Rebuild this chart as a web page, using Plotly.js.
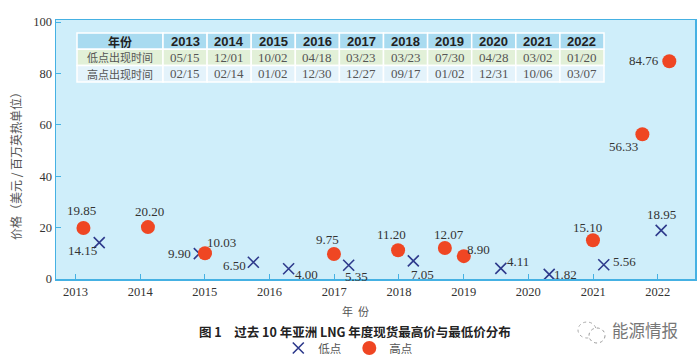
<!DOCTYPE html>
<html>
<head>
<meta charset="utf-8">
<script src="https://cdn.plot.ly/plotly-3.0.1.min.js"></script>
<style>html,body{margin:0;padding:0;background:#fff;}#chart{width:700px;height:364px;}</style>
</head>
<body>
<div id="chart"></div>
<script>
// ---- data ----
var years = ['2013','2014','2015','2016','2017','2018','2019','2020','2021','2022'];
var lowDates  = ['05/15','12/01','10/02','04/18','03/23','03/23','07/30','04/28','03/02','01/20'];
var highDates = ['02/15','02/14','01/02','12/30','12/27','09/17','01/02','12/31','10/06','03/07'];
var lowValues  = [14.15, 9.90, 6.50, 4.00, 5.35, 7.05, 4.11, 1.82, 5.56, 18.95];
var highValues = [19.85, 20.20, 10.03, 9.75, 11.20, 12.07, 8.90, 15.10, 56.33, 84.76];
var tableHeader = '年份';
var rowLabels = ['低点出现时间', '高点出现时间'];

// ---- label offsets (style, px relative to marker) ----
var lowLabelShift  = [[-17,7.5],[-20,0],[-19,3],[18,6],[8,11],[9,14],[17,-6.5],[16,0],[21,-3],[0,-16]];
var highLabelShift = [[-1.5,-18],[2,-16],[16.5,-11],[-6,-14],[-7,-16],[4,-13.7],[15,-7],[-5,-13],[-19,12],[-25.5,-1]];

function toDate(y, md){ var p = md.split('/'); return y + '-' + p[0] + '-' + p[1]; }
var lowX = years.map(function(y,i){ return toDate(y, lowDates[i]); });
var highX = years.map(function(y,i){ return toDate(y, highDates[i]); });
function fmt(v){ return v.toFixed(2); }

var serif = 'Liberation Serif, Times New Roman, serif';
var sans = 'Liberation Sans, Arial, sans-serif';
var cjk = 'Noto Sans CJK SC, sans-serif';

var lowTrace = {
  type:'scatter', mode:'markers', name:'低点',
  x: lowX, y: lowValues,
  marker:{symbol:'x-thin', size:11, color:'#2e3a8c', line:{width:1.6, color:'#2e3a8c'}},
  cliponaxis:false
};
var highTrace = {
  type:'scatter', mode:'markers', name:'高点',
  x: highX, y: highValues,
  marker:{symbol:'circle', size:14, color:'#ef4623'},
  cliponaxis:false
};

// plot-area geometry in px (layout only)
var M = {l:56, r:5, t:20, b:85};
var PW = 700 - M.l - M.r, PH = 364 - M.t - M.b;
function px2x(px){ return (px - M.l) / PW; }
function px2y(py){ return (364 - M.b - py) / PH; }

var annotations = [];
var shapes = [];

function addLabels(xs, vals, shifts){
  xs.forEach(function(x, i){
    annotations.push({x:x, y:vals[i], xref:'x', yref:'y', text:fmt(vals[i]), showarrow:false,
      xanchor:'center', yanchor:'middle', xshift:shifts[i][0], yshift:-shifts[i][1], borderpad:0,
      font:{family:serif, size:13, color:'#333'}});
  });
}
addLabels(lowX, lowValues, lowLabelShift);
addLabels(highX, highValues, highLabelShift);

// ---- table built from the arrays ----
var tLeft = 77, firstW = 86, colW = 44.1;
var rowTops = [33, 49.3, 65.6, 82];
var rowFills = ['#a9dbf0', '#e2f0d8', '#e4f3fb'];
var tableRows = [[tableHeader].concat(years), [rowLabels[0]].concat(lowDates), [rowLabels[1]].concat(highDates)];
tableRows.forEach(function(row, r){
  row.forEach(function(val, c){
    var x0 = c === 0 ? tLeft : tLeft + firstW + (c-1)*colW;
    var x1 = c === 0 ? tLeft + firstW : x0 + colW;
    var y0 = rowTops[r], y1 = rowTops[r+1];
    shapes.push({type:'rect', xref:'paper', yref:'paper', x0:px2x(x0), x1:px2x(x1), y0:px2y(y1), y1:px2y(y0),
      fillcolor:rowFills[r], line:{color:'#ffffff', width:1.5}, layer:'below'});
    var isHeader = r === 0;
    var font;
    if (isHeader) font = {family: c === 0 ? cjk : sans, size: c === 0 ? 12 : 13, color:'#222'};
    else font = {family: c === 0 ? cjk : serif, size: c === 0 ? 11 : 13, color:'#555'};
    annotations.push({xref:'paper', yref:'paper', x:px2x((x0+x1)/2), y:px2y((y0+y1)/2),
      xanchor:'center', yanchor:'middle', showarrow:false, borderpad:0,
      text: isHeader ? '<b>'+val+'</b>' : val, font:font});
  });
});

annotations.push(
  {text:'价格（美元 / 百万英热单位）', xref:'paper', yref:'paper', x:px2x(15), y:px2y(163), textangle:-90,
   xanchor:'center', yanchor:'middle', showarrow:false, font:{family:cjk, size:12, color:'#555'}},
  {text:'年  份', xref:'paper', yref:'paper', x:px2x(355), y:px2y(311), xanchor:'center', yanchor:'middle',
   showarrow:false, borderpad:0, font:{family:cjk, size:11, color:'#555'}},
  {text:'<b>图 1　过去 10 年亚洲 LNG 年度现货最高价与最低价分布</b>', xref:'paper', yref:'paper',
   x:px2x(355), y:px2y(331), xanchor:'center', yanchor:'middle', borderpad:0,
   showarrow:false, font:{family:cjk, size:12.5, color:'#222'}},
  {text:'能源情报', xref:'paper', yref:'paper', x:px2x(645), y:px2y(330), xanchor:'center', yanchor:'middle',
   showarrow:false, borderpad:0, font:{family:cjk, size:16.5, color:'#777'}}
);

shapes.push(
  {type:'circle', xref:'paper', yref:'paper', x0:px2x(578), x1:px2x(596), y0:px2y(338), y1:px2y(322),
   line:{color:'#aaa', width:1, dash:'dot'}},
  {type:'circle', xref:'paper', yref:'paper', x0:px2x(589), x1:px2x(605), y0:px2y(343), y1:px2y(328),
   line:{color:'#999', width:1, dash:'dot'}, fillcolor:'#fff'}
);

var axisColor = '#45b1e3';
var layout = {
  width:700, height:364,
  margin:M,
  paper_bgcolor:'#ffffff', plot_bgcolor:'#cfeefa',
  showlegend:true,
  legend:{orientation:'h', x:0.499, xanchor:'center', xref:'container', y:(364-348)/364, yref:'container', yanchor:'middle',
          font:{family:cjk, size:11.5, color:'#555'}, bgcolor:'rgba(0,0,0,0)', itemwidth:30,
          entrywidth:26, entrywidthmode:'pixels'},
  xaxis:{type:'date', range:['2012-09-13','2022-07-30'], tick0:'2013-01-01', dtick:'M12', tickformat:'%Y',
         showgrid:false, zeroline:false, showline:true, mirror:true, linecolor:axisColor, linewidth:1.5,
         ticks:'inside', ticklen:5, tickcolor:axisColor,
         tickfont:{family:serif, size:12.5, color:'#333'}},
  yaxis:{range:[0,100.8], dtick:20, showgrid:false, zeroline:false, showline:true, mirror:true,
         linecolor:axisColor, linewidth:1.5, ticks:'inside', ticklen:5, tickcolor:axisColor,
         tickfont:{family:serif, size:12.5, color:'#333'}},
  annotations:annotations,
  shapes:shapes
};

Plotly.newPlot('chart', [lowTrace, highTrace], layout, {displayModeBar:false, staticPlot:true});
</script>
</body>
</html>
